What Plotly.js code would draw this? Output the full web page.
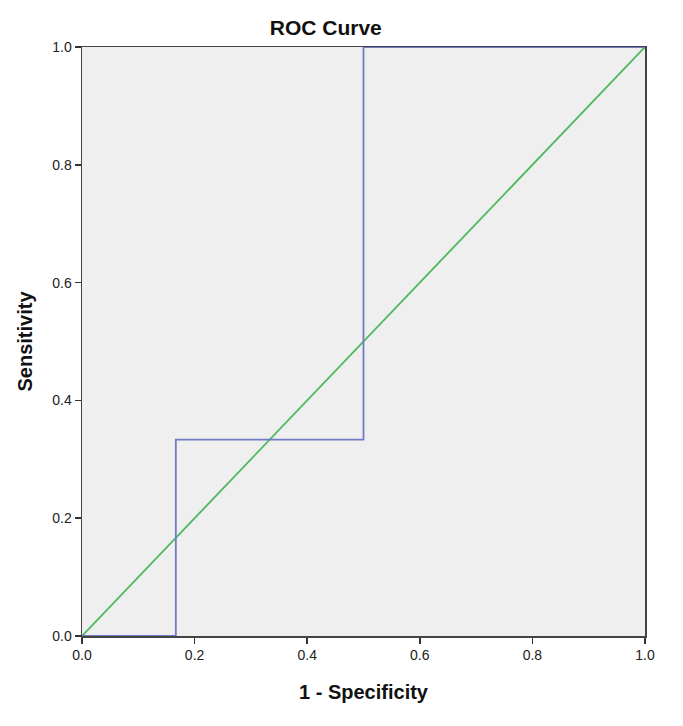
<!DOCTYPE html>
<html>
<head>
<meta charset="utf-8">
<script src="https://cdn.plot.ly/plotly-3.0.1.min.js"></script>
<style>
  body { margin: 0; background: #fff; }
  #chart { width: 683px; height: 726px; }
</style>
</head>
<body>
<div id="chart"></div>
<script>
// ROC step curve (1 - specificity, sensitivity)
const rocX = [0, 1/6, 1/6, 0.5, 0.5, 1];
const rocY = [0, 0, 1/3, 1/3, 1, 1];
// reference diagonal
const refX = [0, 1];
const refY = [0, 1];
const tickVals = [0, 0.2, 0.4, 0.6, 0.8, 1.0];

const font = 'Liberation Sans, Arial, sans-serif';

const traces = [
  {x: refX, y: refY, type: 'scatter', mode: 'lines',
   line: {color: '#4cb95a', width: 1.8}, hoverinfo: 'skip'},
  {x: rocX, y: rocY, type: 'scatter', mode: 'lines',
   line: {color: '#6f7bc6', width: 1.8}, hoverinfo: 'skip'}
];

const axisBase = {
  range: [0, 1],
  tickvals: tickVals,
  tickformat: '.1f',
  ticks: 'outside',
  ticklen: 6,
  tickwidth: 1.5,
  tickcolor: '#333',
  showgrid: false,
  zeroline: false,
  showline: true,
  linecolor: '#444',
  linewidth: 1.5,
  mirror: true,
  tickfont: {family: font, size: 14, color: '#222'}
};

Plotly.newPlot('chart', traces, {
  width: 683, height: 726,
  margin: {l: 82, r: 38, t: 47, b: 90},
  paper_bgcolor: '#fff',
  plot_bgcolor: '#efefef',
  showlegend: false,
  title: {text: '<b>ROC Curve</b>', x: 0.477, xanchor: 'center', y: 0.962, yanchor: 'middle',
          font: {family: font, size: 21, color: '#111'}},
  xaxis: {...axisBase,
    title: {text: '<b>1 - Specificity</b>', standoff: 22, font: {family: font, size: 20, color: '#111'}}},
  yaxis: {...axisBase,
    title: {text: '<b>Sensitivity</b>', standoff: 14, font: {family: font, size: 20, color: '#111'}}}
}, {displayModeBar: false, staticPlot: true});
</script>
</body>
</html>
